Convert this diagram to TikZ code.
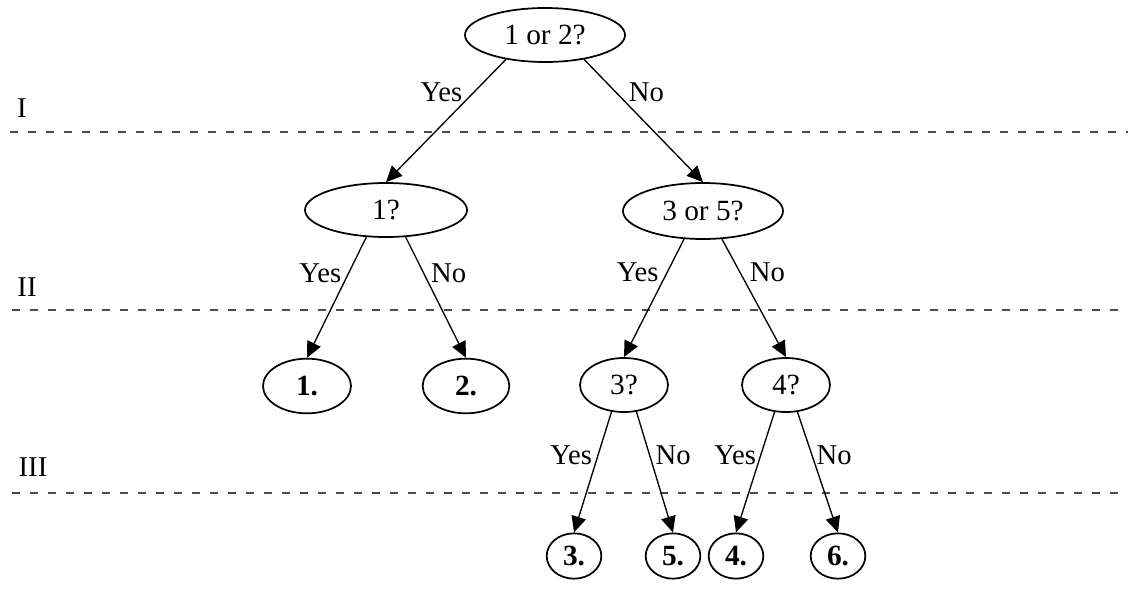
\documentclass[tikz,border=0pt]{standalone}
\usepackage{fontspec}
\setmainfont{Liberation Serif}
\usetikzlibrary{shapes.geometric,arrows.meta}
\tikzset{
  qnode/.style={draw, ellipse, line width=1.3pt, inner sep=0pt, font=\fontsize{22}{24}\selectfont},
  leaf/.style={qnode, font=\fontsize{22}{24}\selectfont\bfseries},
  arr/.style={line width=1pt, -{Triangle[length=12pt,width=11pt]}},
  lbl/.style={font=\fontsize{21.5}{24}\selectfont, inner sep=5pt},
  cut/.style={dash pattern=on 6pt off 7.5pt, line width=1.3pt, draw=black!70},
}

\begin{document}
\begin{tikzpicture}[x=0.75pt,y=0.75pt,yscale=-1,xscale=1]
\useasboundingbox (0,0) rectangle (1133,590);

%Dashed Lines
\draw [cut] (10,132) -- (1128,132) ;
\draw [cut] (12,310) -- (1128,310) ;
\draw [cut] (12,493) -- (1128,493) ;

% Text Node
\node (lvlI) at (22,108) [lbl] {I};
\node (lvlII) at (27,287) [lbl] {II};
\node (lvlIII) at (33,467) [lbl] {III};

%Ellipse
\node (q12) at (545,35) [qnode, minimum width=120pt, minimum height=40.5pt] {1 or 2?};
\node (q1) at (386,210) [qnode, minimum width=121.5pt, minimum height=40.5pt] {1?};
\node (q35) at (703,211) [qnode, minimum width=120pt, minimum height=42pt] {3 or 5?};
\node (q3) at (624,385) [qnode, minimum width=66pt, minimum height=40.5pt] {3?};
\node (q4) at (786,385) [qnode, minimum width=66pt, minimum height=40.5pt] {4?};
\node (l1) at (307,386) [leaf, minimum width=66pt, minimum height=41pt] {1.};
\node (l2) at (466,386) [leaf, minimum width=65pt, minimum height=41pt] {2.};
\node (l3) at (574,556) [leaf, minimum width=41pt, minimum height=34pt] {3.};
\node (l5) at (673,556) [leaf, minimum width=41pt, minimum height=34pt] {5.};
\node (l4) at (736,556) [leaf, minimum width=41pt, minimum height=34pt] {4.};
\node (l6) at (838,556) [leaf, minimum width=41pt, minimum height=34pt] {6.};

%Straight Lines
\draw [arr] (q12.-148) -- node [lbl, left, pos=.27, inner sep=8pt] {Yes} (q1.north) ;
\draw [arr] (q12.-32) -- node [lbl, right, pos=.27, inner sep=9pt] {No} (q35.north) ;
\draw [arr] (q1.-126) -- node [lbl, left, pos=.3] {Yes} (l1.north) ;
\draw [arr] (q1.-54) -- node [lbl, right, pos=.3] {No} (l2.north) ;
\draw [arr] (q35.-124) -- node [lbl, left, pos=.28, inner sep=6pt] {Yes} (q3.north) ;
\draw [arr] (q35.-56) -- node [lbl, right, pos=.28, inner sep=7pt] {No} (q4.north) ;
\draw [arr] (q3.-115) -- node [lbl, left, pos=.36, inner sep=4pt] {Yes} (l3.north) ;
\draw [arr] (q3.-65) -- node [lbl, right, pos=.36, inner sep=4pt] {No} (l5.north) ;
\draw [arr] (q4.-113) -- node [lbl, left, pos=.36, inner sep=3pt] {Yes} (l4.north) ;
\draw [arr] (q4.-67) -- node [lbl, right, pos=.36, inner sep=3pt] {No} (l6.north) ;

\end{tikzpicture}
\end{document}
